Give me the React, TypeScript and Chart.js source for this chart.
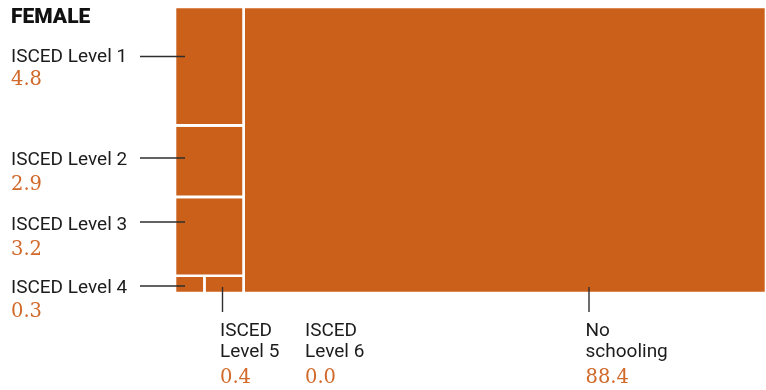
import React, { useEffect, useRef } from 'react';
import { Chart, registerables } from 'chart.js';

Chart.register(...registerables);

// ---- data ----
const title = 'FEMALE';
const categories = [
  'ISCED Level 1',
  'ISCED Level 2',
  'ISCED Level 3',
  'ISCED Level 4',
  'ISCED Level 5',
  'ISCED Level 6',
  'No schooling',
];
const labelLines = [
  ['ISCED Level 1'],
  ['ISCED Level 2'],
  ['ISCED Level 3'],
  ['ISCED Level 4'],
  ['ISCED', 'Level 5'],
  ['ISCED', 'Level 6'],
  ['No', 'schooling'],
];
const values = [4.8, 2.9, 3.2, 0.3, 0.4, 0.0, 88.4];
// treemap grouping: left column stacks rows; bottom row holds several items side by side
const leftColumnRows = [[0], [1], [2], [3, 4, 5]];
const rightColumn = [6];

// ---- layout (pixels) ----
const labelLayout = [
  { x: 11, y: 62, valueDy: 23, leader: { kind: 'h', x0: 140, y: 56.5 } },
  { x: 11, y: 165, valueDy: 25, leader: { kind: 'h', x0: 140, y: 158 } },
  { x: 11, y: 230, valueDy: 24.5, leader: { kind: 'h', x0: 140, y: 222 } },
  { x: 11, y: 292.5, valueDy: 24.5, leader: { kind: 'h', x0: 140, y: 286 } },
  { x: 220, y: 336, valueDy: 47, leader: { kind: 'v', x: 222.5, y1: 312 } },
  { x: 305, y: 336, valueDy: 47, leader: null },
  { x: 585.5, y: 336, valueDy: 47, leader: { kind: 'v', x: 589, y1: 312 } },
];

const RECT_COLOR = '#CB601B';
const VALUE_COLOR = '#D0692A';
const TEXT_COLOR = '#1c1c1c';
const LEADER_COLOR = '#2e2e2e';

type Rect = { x0: number; x1: number; y0: number; y1: number };

function computeRects(): Rect[] {
  const leftIdx = leftColumnRows.flat();
  const leftSum = leftIdx.reduce((a, i) => a + values[i], 0);
  const rects: Rect[] = new Array(values.length);
  // left column: rows stacked vertically (y in 0..1, top to bottom)
  let yCur = 0;
  for (const row of leftColumnRows) {
    const rowSum = row.reduce((a, i) => a + values[i], 0);
    const h = rowSum / leftSum;
    let xCur = 0;
    for (const i of row) {
      const w = rowSum > 0 ? (values[i] / rowSum) * leftSum : 0;
      rects[i] = { x0: xCur, x1: xCur + w, y0: yCur, y1: yCur + h };
      xCur += w;
    }
    yCur += h;
  }
  let xCur = leftSum;
  for (const i of rightColumn) {
    const w = values[i];
    rects[i] = { x0: xCur, x1: xCur + w, y0: 0, y1: 1 };
    xCur += w;
  }
  return rects;
}

export default function App() {
  const ref = useRef<HTMLCanvasElement | null>(null);

  useEffect(() => {
    const canvas = ref.current;
    if (!canvas) return;
    const rects = computeRects();
    const total = values.reduce((a, b) => a + b, 0);

    const datasets = rects
      .map((r, i) => ({ r, i }))
      .filter(({ i }) => values[i] > 0)
      .map(({ r, i }) => ({
        label: categories[i],
        data: [
          { x: r.x0, y: r.y0 },
          { x: r.x1, y: r.y0 },
          { x: r.x1, y: r.y1 },
          { x: r.x0, y: r.y1 },
          { x: r.x0, y: r.y0 },
        ],
        fill: 'shape' as const,
        backgroundColor: RECT_COLOR,
        borderColor: '#ffffff',
        borderWidth: 2.6,
        borderJoinStyle: 'miter' as const,
        pointRadius: 0,
        tension: 0,
      }));

    const labelsPlugin = {
      id: 'treemapLabels',
      afterDraw(chart: any) {
        const ctx = chart.ctx as CanvasRenderingContext2D;
        const xs = chart.scales.x;
        const ys = chart.scales.y;
        ctx.save();
        ctx.textBaseline = 'alphabetic';
        ctx.textAlign = 'left';
        // title
        ctx.fillStyle = '#111111';
        ctx.font = '900 21px Roboto';
        ctx.fillText(title, 11, 23);

        labelLayout.forEach((lay, i) => {
          const r = rects[i];
          // leader
          if (lay.leader) {
            ctx.strokeStyle = LEADER_COLOR;
            ctx.lineWidth = 1.4;
            ctx.beginPath();
            if (lay.leader.kind === 'h') {
              const xEnd = xs.getPixelForValue(r.x0) + 10;
              ctx.moveTo(lay.leader.x0 as number, lay.leader.y as number);
              ctx.lineTo(xEnd, lay.leader.y as number);
            } else {
              const yTop = ys.getPixelForValue(r.y1) - 6;
              ctx.moveTo(lay.leader.x as number, yTop);
              ctx.lineTo(lay.leader.x as number, lay.leader.y1 as number);
            }
            ctx.stroke();
          }
          // label lines
          ctx.fillStyle = TEXT_COLOR;
          ctx.font = '19px Roboto';
          labelLines[i].forEach((line, k) => {
            ctx.fillText(line, lay.x, lay.y + k * 21);
          });
          // value
          ctx.fillStyle = VALUE_COLOR;
          ctx.font = '19.5px "DejaVu Serif"';
          ctx.fillText(values[i].toFixed(1), lay.x, lay.y + lay.valueDy);
        });
        ctx.restore();
      },
    };

    const chart = new Chart(canvas, {
      type: 'line',
      data: { datasets: datasets as any },
      options: {
        responsive: false,
        animation: false,
        layout: { padding: { left: 175, top: 7, right: 0, bottom: 97 } },
        scales: {
          x: { type: 'linear', min: 0, max: total, display: false },
          y: { type: 'linear', min: 0, max: 1, reverse: true, display: false },
        },
        plugins: {
          legend: { display: false },
          tooltip: { enabled: false },
        },
      },
      plugins: [labelsPlugin],
    });
    return () => chart.destroy();
  }, []);

  return (
    <div style={{ position: 'fixed', left: 0, top: 0, width: 766, height: 390, background: '#fff' }}>
      <canvas ref={ref} width={766} height={390} style={{ display: 'block', width: 766, height: 390 }} />
    </div>
  );
}
